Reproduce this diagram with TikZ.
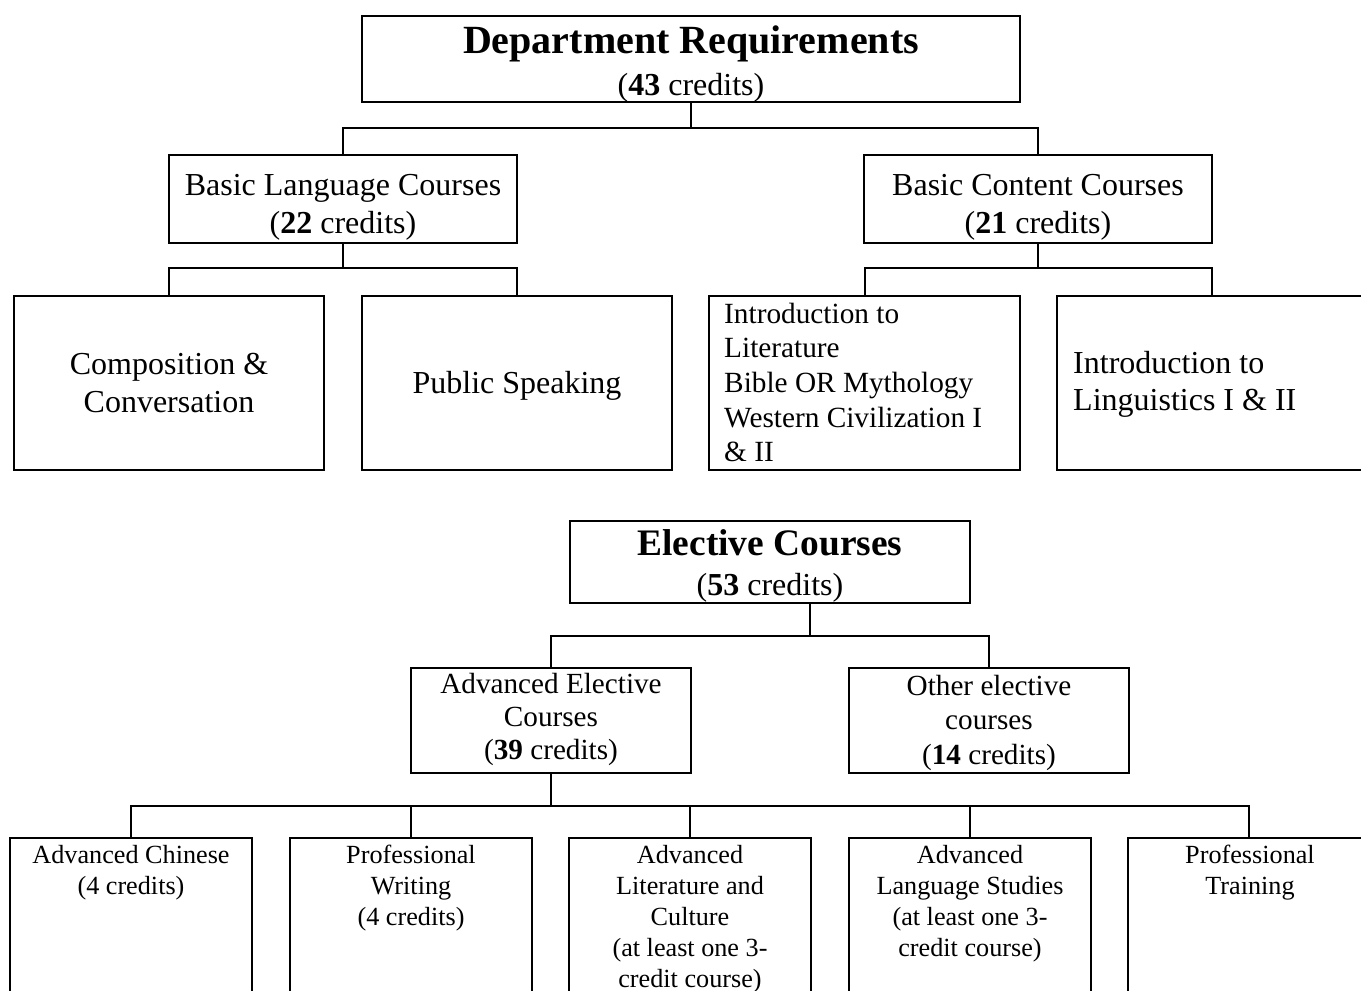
\documentclass[tikz,border=0pt]{standalone}
\usepackage{fontspec}
\setmainfont{Liberation Serif}
\newcommand{\fsz}[2]{\fontsize{#1}{#2}\selectfont}
\tikzset{
  box/.style={draw, line width=2pt, inner sep=0pt, minimum width=#1},
  txt/.style={anchor=north, inner sep=0pt, align=center},
  txtl/.style={anchor=north west, inner sep=0pt, align=left},
  conn/.style={line width=2pt}
}
\begin{document}
\begin{tikzpicture}[x=1pt,y=-1pt]
\useasboundingbox (0,0) rectangle (1361,991);
\fill[white] (0,0) rectangle (1361,991);
\clip (0,0) rectangle (1361,991);
% ---------- boxes: department requirements ----------
\node[box=658, minimum height=86] (dept) at (691,59) {};
\node[box=348, minimum height=88] (bl) at (343,199) {};
\node[box=348, minimum height=88] (bc) at (1038,199) {};
\node[box=310, minimum height=174] (comp) at (169,383) {};
\node[box=310, minimum height=174] (ps) at (517,383) {};
\node[box=311, minimum height=174] (il) at (864.5,383) {};
\node[box=310, minimum height=174] (ling) at (1212,383) {};
% ---------- boxes: elective courses ----------
\node[box=400, minimum height=82] (elec) at (770,562) {};
\node[box=280, minimum height=105] (ae) at (551,720.5) {};
\node[box=280, minimum height=105] (oe) at (989,720.5) {};
\node[box=242, minimum height=162] (ach) at (131,919) {};
\node[box=242, minimum height=162] (pw) at (411,919) {};
\node[box=242, minimum height=162] (al) at (690,919) {};
\node[box=242, minimum height=162] (als) at (970,919) {};
\node[box=242, minimum height=162] (pt) at (1249,919) {};
% ---------- texts ----------
\node[txt, font=\fsz{32}{42}] (tdept) at (691,23.6)
  {\strut{\fsz{40}{42}\bfseries Department Requirements}\\(\textbf{43} credits)};
\node[txt, font=\fsz{32}{38}] (tbl) at (343,168.4)
  {\strut Basic Language Courses\\(\textbf{22} credits)};
\node[txt, font=\fsz{32}{38}] (tbc) at (1038,168.4)
  {\strut Basic Content Courses\\(\textbf{21} credits)};
\node[txt, font=\fsz{32}{38}] (tcomp) at (169,347.4)
  {\strut Composition \&\\Conversation};
\node[txt, font=\fsz{32}{38}] (tps) at (517,366.4)
  {\strut Public Speaking};
\node[txtl, font=\fsz{29.3}{34.7}] (til) at (724,298.7)
  {\strut Introduction to\\Literature\\Bible OR Mythology\\Western Civilization I\\\& II};
\node[txtl, font=\fsz{32}{37}] (tling) at (1073,347.1)
  {\strut Introduction to\\Linguistics I \& II};
\node[txt, font=\fsz{32}{40}] (telec) at (770,527)
  {\strut{\fsz{37.4}{40}\bfseries Elective Courses}\\(\textbf{53} credits)};
\node[txt, font=\fsz{29.2}{33}] (tae) at (551,669.9)
  {\strut Advanced Elective\\Courses\\(\textbf{39} credits)};
\node[txt, font=\fsz{29.2}{34.5}] (toe) at (989,670.9)
  {\strut Other elective\\courses\\(\textbf{14} credits)};
\node[txt, font=\fsz{26.2}{31}] (tach) at (131,841.3)
  {\strut Advanced Chinese\\(4 credits)};
\node[txt, font=\fsz{26.2}{31}] (tpw) at (411,841.3)
  {\strut Professional\\Writing\\(4 credits)};
\node[txt, font=\fsz{26.2}{31}] (tal) at (690,841.3)
  {\strut Advanced\\Literature and\\Culture\\(at least one 3-\\credit course)};
\node[txt, font=\fsz{26.2}{31}] (tals) at (970,841.3)
  {\strut Advanced\\Language Studies\\(at least one 3-\\credit course)};
\node[txt, font=\fsz{26.2}{31}] (tpt) at (1250,841.3)
  {\strut Professional\\Training};
% ---------- connectors ----------
\coordinate (j1) at (691,128);
\coordinate (j2) at (343,268);
\coordinate (j3) at (1038,268);
\coordinate (j4) at (810,636);
\coordinate (j5) at (551,806);
\draw[conn] (dept.south) -- (j1);
\draw[conn] (bl.north) |- (j1) -| (bc.north);
\draw[conn] (bl.south) -- (j2);
\draw[conn] (comp.north) |- (j2) -| (ps.north);
\draw[conn] (bc.south) -- (j3);
\draw[conn] (il.north) |- (j3) -| (ling.north);
\draw[conn] (elec.south -| j4) -- (j4);
\draw[conn] (ae.north) |- (j4) -| (oe.north);
\draw[conn] (ae.south) -- (j5);
\draw[conn] (ach.north) |- (j5) -| (pt.north);
\draw[conn] (pw.north) -- (pw.north |- j5);
\draw[conn] (al.north) -- (al.north |- j5);
\draw[conn] (als.north) -- (als.north |- j5);
\end{tikzpicture}
\end{document}
